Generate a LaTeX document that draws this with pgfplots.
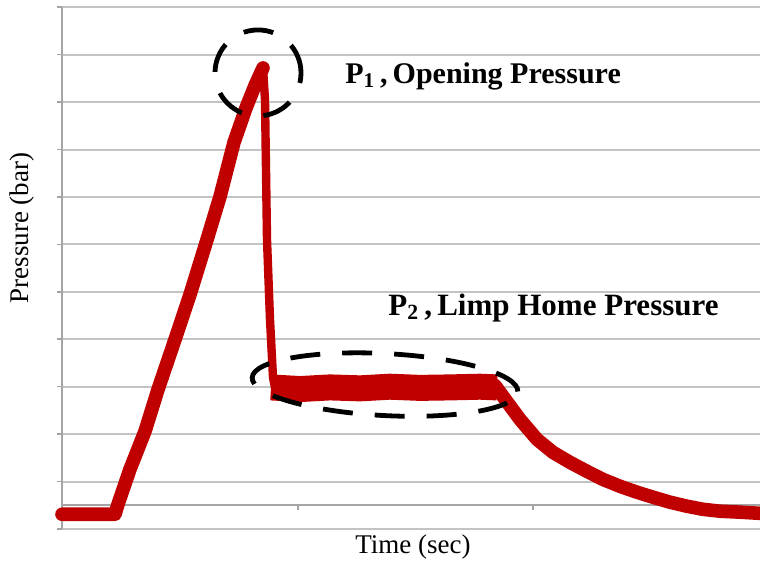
\documentclass[border=0pt]{standalone}
\usepackage{pgfplots}
\pgfplotsset{compat=1.18}
\usepackage{fontspec}
\setmainfont{Liberation Serif}
\definecolor{gridgray}{RGB}{195,195,195}
\definecolor{axgray}{RGB}{165,165,165}
\definecolor{pred}{RGB}{192,0,0}
\begin{document}
\begin{tikzpicture}
\useasboundingbox (-31pt,-18.5pt) rectangle (349pt,264.5pt);
\draw[gridgray, line width=1pt] (0pt,0pt) -- (349pt,0pt);
\begin{axis}[
  at={(0,0)}, anchor=south west,
  scale only axis, width=349pt, height=260.875pt,
  xmin=62, xmax=760, ymin=-1, ymax=21,
  axis x line=middle, axis y line=left,
  axis line style={-, draw=axgray, line width=0.8pt},
  xtick={298,533}, xticklabels={},
  ytick={-1,1,...,21}, yticklabels={},
  ymajorgrids, major grid style={gridgray, line width=1pt},
  tick style={axgray, line width=0.8pt},
  major tick length=2.5pt,
  tick align=outside, xtick align=outside,
  clip=false,
]
% rise
\addplot[pred, line width=6.8pt, line join=round, line cap=round] coordinates {
(62,-0.38) (115,-0.38) (118,0.04) (130,1.52) (145,3.12) (158,4.88) (175,6.99)
(190,8.88) (207,11.2) (220,13.01) (234,15.3) (246,16.75) (255,17.7) (263,18.44)};
% drop
\addplot[pred, line width=4.2pt, line join=round, line cap=round] coordinates {
(263,18.44) (265,17.09) (267,11.2) (270,7.83) (273,5.39) (275,4.97)};
% plateau
\addplot[pred, line width=13pt, line join=round, line cap=butt] coordinates {
(271,4.97) (300,4.9) (330,4.97) (360,4.93) (390,5.0) (420,4.95) (450,4.97) (480,5.0) (497,4.97)};
% decay
\addplot[pred, line width=6.8pt, line join=round, line cap=round] coordinates {
(495,5.05) (503,4.59) (520,3.62) (537,2.78) (553,2.23) (570,1.81) (587,1.43)
(603,1.09) (620,0.8) (637,0.55) (653,0.34) (670,0.13) (687,-0.04) (703,-0.17)
(720,-0.25) (740,-0.29) (760,-0.34)};
% annotation ellipses
\draw[black, line width=2.4pt, dash pattern=on 15pt off 11pt]
  (axis cs:258,18.23) circle[radius=21.5pt];
\draw[black, line width=2.4pt, dash pattern=on 15pt off 11pt, rotate around={-3:(axis cs:385,5.09)}]
  (axis cs:385,5.09) ellipse[x radius=66.5pt, y radius=15.5pt];
\end{axis}
\node[font=\fontsize{13.5}{16}\selectfont] at (175.5pt,-9pt) {Time (sec)};
\node[font=\fontsize{13.5}{16}\selectfont, rotate=90] at (-20pt,150.5pt) {Pressure (bar)};
\node[font=\fontsize{15}{18}\selectfont\bfseries, anchor=west, inner sep=0pt] at (141.5pt,226.5pt) {P\textsubscript{1}\,,\,Opening Pressure};
\node[font=\fontsize{15.5}{18}\selectfont\bfseries, anchor=west, inner sep=0pt] at (163pt,110.5pt) {P\textsubscript{2}\,,\,Limp Home Pressure};
\end{tikzpicture}
\end{document}
